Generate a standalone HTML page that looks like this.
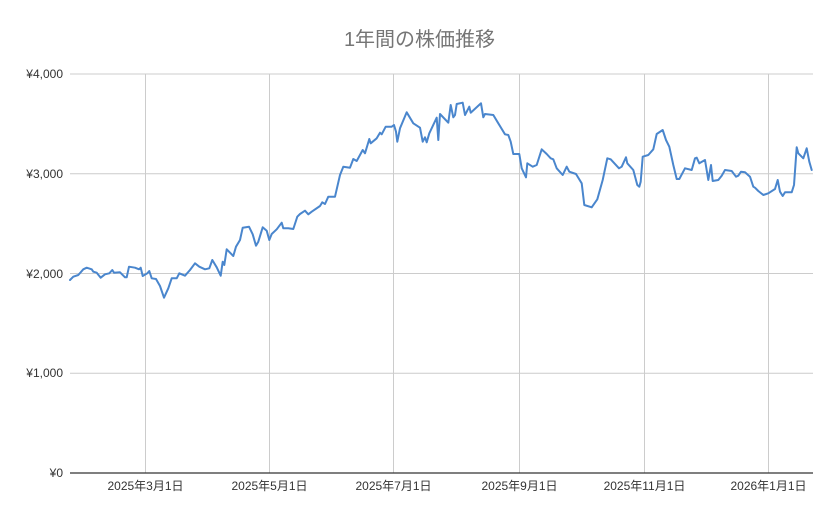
<!DOCTYPE html>
<html><head><meta charset="utf-8"><style>
html,body{margin:0;padding:0;background:#fff;}
svg{display:block;}
text{font-family:"Liberation Sans","Noto Sans CJK JP",sans-serif;}
</style></head><body>
<svg width="839" height="519" viewBox="0 0 839 519" xmlns="http://www.w3.org/2000/svg">
<rect width="839" height="519" fill="#fff"/>
<text x="419.5" y="46" text-anchor="middle" font-size="20" fill="#757575">1年間の株価推移</text>
<g stroke="#cccccc" stroke-width="1" fill="none">
<line x1="70" y1="74" x2="813" y2="74"/>
<line x1="70" y1="173.75" x2="813" y2="173.75"/>
<line x1="70" y1="273.5" x2="813" y2="273.5"/>
<line x1="70" y1="373.25" x2="813" y2="373.25"/>
<line x1="145.5" y1="74" x2="145.5" y2="473"/>
<line x1="269.5" y1="74" x2="269.5" y2="473"/>
<line x1="393.5" y1="74" x2="393.5" y2="473"/>
<line x1="519.5" y1="74" x2="519.5" y2="473"/>
<line x1="644.5" y1="74" x2="644.5" y2="473"/>
<line x1="768.5" y1="74" x2="768.5" y2="473"/>
</g>
<line x1="70" y1="473" x2="813" y2="473" stroke="#333" stroke-width="1.2"/>
<g font-size="12" fill="#333" text-anchor="end">
<text x="63" y="78">¥4,000</text>
<text x="63" y="178">¥3,000</text>
<text x="63" y="278">¥2,000</text>
<text x="63" y="377">¥1,000</text>
<text x="63" y="477">¥0</text>
</g>
<g font-size="12" fill="#333" text-anchor="middle">
<text x="145.5" y="490">2025年3月1日</text>
<text x="269.5" y="490">2025年5月1日</text>
<text x="393.5" y="490">2025年7月1日</text>
<text x="519.5" y="490">2025年9月1日</text>
<text x="644.5" y="490">2025年11月1日</text>
<text x="768.5" y="490">2026年1月1日</text>
</g>
<polyline fill="none" stroke="#4a86cd" stroke-width="2" stroke-linejoin="round" stroke-linecap="round" points="70,280 73.3,276.7 78.3,275 83.3,269.3 86.7,267.7 91.7,269.3 93.3,271.7 96.7,272.7 100.7,277.7 105,274.3 109.3,273.3 112.3,270 114,272.7 120,272.3 125,277.3 126.7,277.3 129,266.7 135,267.7 139,269.3 140.7,267.7 142.7,276 147.3,273.3 149.3,271 151.7,278.3 156,279 160,286 164,297.7 168.3,288.3 171.7,278.3 176.7,278.3 179.3,273.3 185,275.7 190,270 195,263.3 199.3,266.7 205,269.3 209.3,268.3 212.3,260 216.7,267.3 220.7,275.7 222.7,261.7 224.3,265 226.7,249.3 233.3,256 236,246.7 240,240 242.7,227.7 249,226.7 252.7,234.3 256,245.7 258.3,241.7 262.7,227.3 266.7,230.7 269.3,240 271.7,234 276.7,229.3 281.7,222.7 283.3,228.3 288.3,228.3 293.3,229 297.3,216.7 300,214 305,210.7 308.3,214.3 311.7,211.7 320,206 322.3,202.3 325,204 328.3,196.7 335,196.7 340,175 343.3,166.7 350,167.7 353.3,159 356.7,161 362.7,150 365,153.3 369.3,139 370.7,143.3 376.7,138.3 380,132.7 381.7,134.3 385.7,126.7 391.7,126.7 394,125 396,131.7 397.3,141.7 400,128.3 406.7,112.3 413.3,123.3 420,127.7 422.7,141.7 425,137.3 426.7,142.3 429.3,133.3 436.7,117.7 438.3,140 440,114 448.3,122.7 450.7,105 453.3,117.3 455,115 456.7,104 462.7,102.7 465,115 469.3,106.7 470.7,112.7 481,103.3 483.3,117.3 485,114 493.3,115 498.3,123.3 505,134.3 508.3,135 510.7,141.7 513.3,154 519.3,154 521.7,168.3 526,177.3 527.3,163.3 532.7,166.7 536.7,165 541.7,149.3 546.7,154 550.7,158.3 553.3,159.3 556.7,168.3 562.7,175 566.7,166.7 569.3,171.7 576,174 581.7,183.3 584.3,205 591.7,207.3 597.3,199.3 602.7,180 607.3,158.3 610.7,159.3 619,168.3 621.7,166.7 626,157.3 627.3,163.3 633.3,170 637.3,185 639.3,186.7 640.7,181.7 642.7,156.7 648.3,155 653.3,149.3 656.7,134 662.7,130 666,140 669.3,146.7 673.3,165 676.7,179 679.3,179 685,168.3 691.7,170 695,158.3 696.7,157.7 699.3,163.3 705,160 708.3,180 711,165 712.7,181 718.3,180 721.7,175.7 725,170 731.7,171 736,176.7 738.3,175.7 741,171.7 745,172.3 750,176.7 753.3,186.7 755,187.7 758.3,191 763.3,195 768.3,193.3 775,189 777.7,180 780,191.7 782.7,196 785,192.3 791.7,192.3 794,185 796.7,147.3 798.3,153.3 803.3,158.3 806.7,148.3 809.3,161.7 811.7,170"/>
</svg>
</body></html>
